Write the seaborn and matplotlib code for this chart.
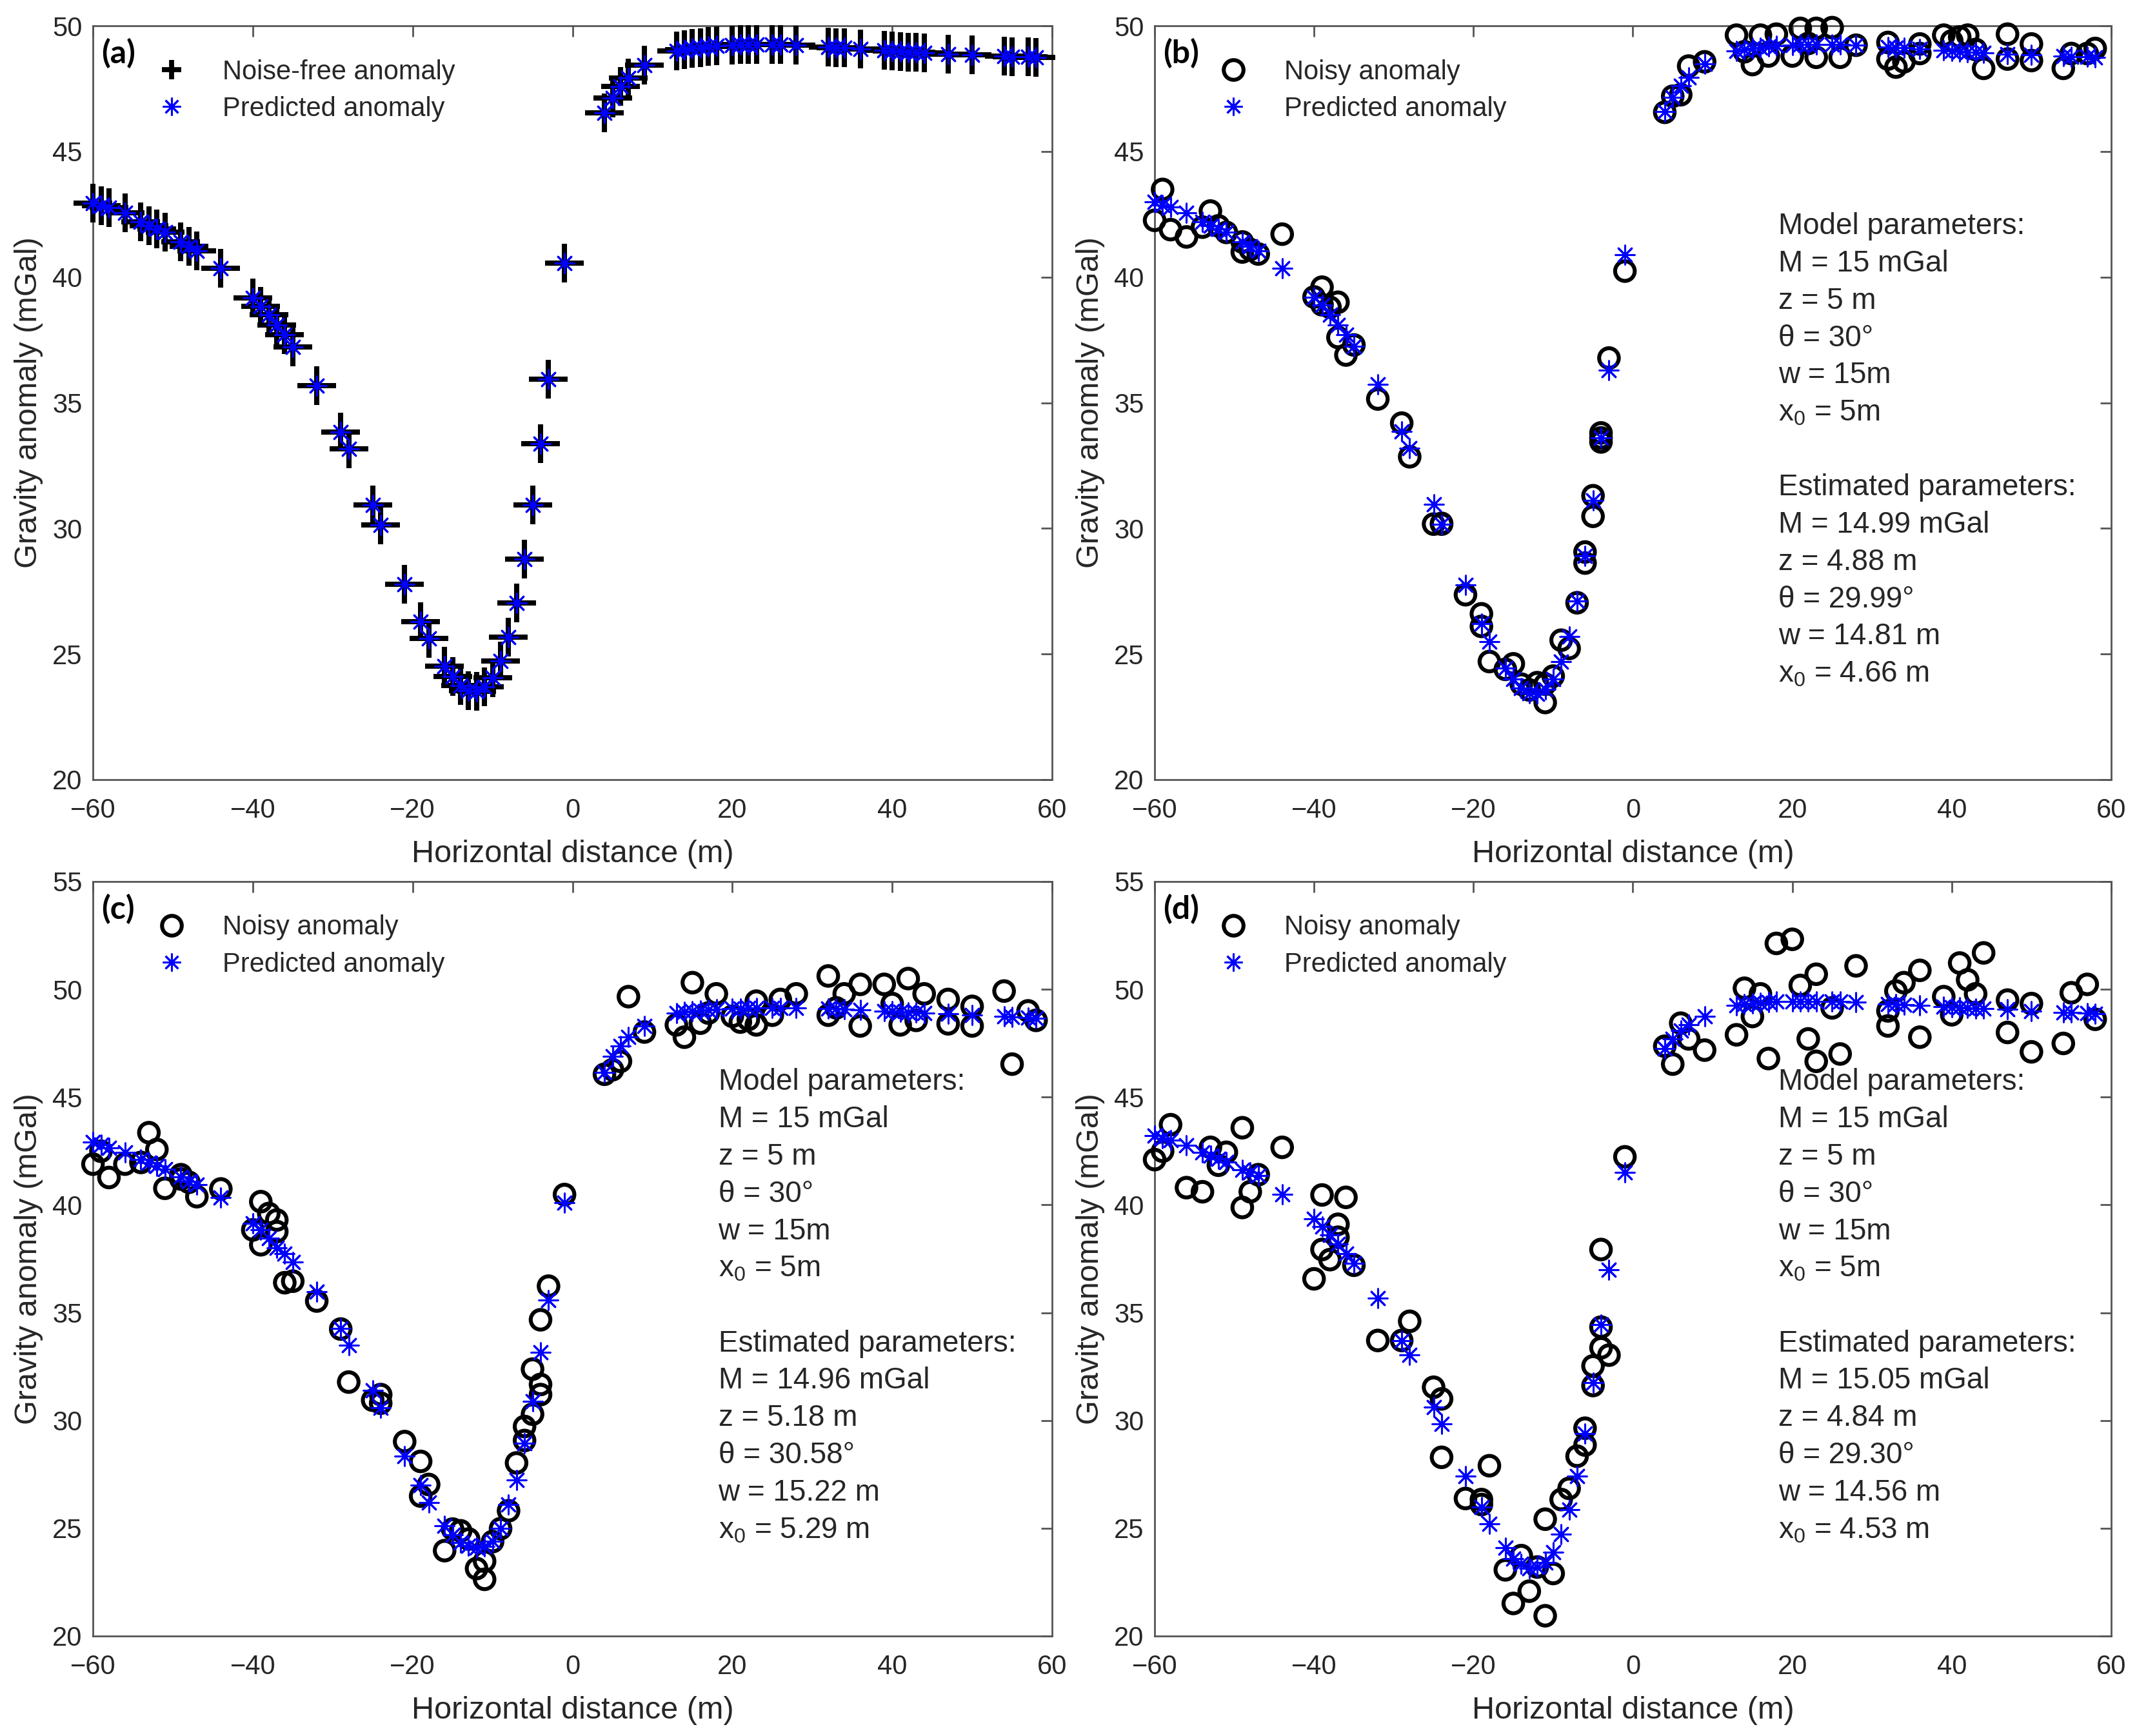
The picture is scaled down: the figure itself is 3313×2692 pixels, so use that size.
"""
Gravity anomaly over a dipping fault: noise-free / noisy data vs predicted
"""
import numpy as np
import pandas as pd
import matplotlib.pyplot as plt
from matplotlib.lines import Line2D
import seaborn as sns

sns.set_style("white")
plt.rcParams['font.family'] = ['Liberation Sans', 'DejaVu Sans']
plt.rcParams['mathtext.fontset'] = 'custom'
plt.rcParams['mathtext.rm'] = 'Liberation Sans'
plt.rcParams['mathtext.it'] = 'Liberation Sans'

# ---- data ----
x_model = [-60, -59, -58, -56, -54, -53, -52, -51, -49, -48, -47, -44,
           -40, -39, -38, -37, -36, -35,
           -32, -29, -28, -25, -24, -21, -19, -18, -16, -15, -14, -13, -12, -11,
           -10, -9, -8, -7, -6, -5, -4, -3, -1,
           4, 5, 6, 7, 9,
           13, 14, 15, 16, 17, 18, 20, 21, 22, 23, 25, 26, 28, 32, 33, 34, 36,
           39, 40, 41, 42, 43, 44, 47, 50, 54, 55, 57, 58]

noise_free = [42.94, 42.85, 42.76, 42.55, 42.20, 42.05, 41.92, 41.78, 41.40, 41.22, 41.05, 40.34,
              39.16, 38.85, 38.50, 38.10, 37.70, 37.23,
              35.69, 33.84, 33.16, 30.93, 30.14, 27.78, 26.30, 25.63, 24.51, 24.10, 23.75, 23.55,
              23.52, 23.70, 24.05, 24.71, 25.68, 27.03, 28.77, 30.93, 33.38, 35.94, 40.55,
              46.55, 47.12, 47.59, 47.92, 48.44,
              49.00, 49.05, 49.10, 49.13, 49.17, 49.20, 49.24, 49.25, 49.26, 49.26, 49.26, 49.25,
              49.23, 49.16, 49.14, 49.12, 49.08, 49.02, 49.00, 48.98, 48.96, 48.94, 48.93, 48.88,
              48.84, 48.79, 48.78, 48.76, 48.75]

pred_a = [42.94, 42.85, 42.76, 42.55, 42.20, 42.05, 41.92, 41.78, 41.40, 41.22, 41.05, 40.34,
          39.16, 38.85, 38.50, 38.10, 37.70, 37.23,
          35.69, 33.84, 33.16, 30.93, 30.14, 27.78, 26.30, 25.63, 24.51, 24.10, 23.75, 23.55,
          23.52, 23.70, 24.05, 24.71, 25.68, 27.03, 28.77, 30.93, 33.38, 35.94, 40.55,
          46.55, 47.12, 47.59, 47.92, 48.44,
          49.00, 49.05, 49.10, 49.13, 49.17, 49.20, 49.24, 49.25, 49.26, 49.26, 49.26, 49.25,
          49.23, 49.16, 49.14, 49.12, 49.08, 49.02, 49.00, 48.98, 48.96, 48.94, 48.93, 48.88,
          48.84, 48.79, 48.78, 48.76, 48.75]

pred_b = [43.00, 42.88, 42.78, 42.55, 42.20, 42.05, 41.92, 41.78, 41.40, 41.22, 41.05, 40.34,
          39.20, 38.88, 38.50, 38.10, 37.70, 37.25,
          35.72, 33.86, 33.18, 30.95, 30.16, 27.75, 26.20, 25.50, 24.45, 24.00, 23.65, 23.45,
          23.42, 23.60, 24.00, 24.70, 25.70, 27.10, 28.90, 31.10, 33.60, 36.30, 40.90,
          46.60, 47.15, 47.62, 47.95, 48.48,
          49.00, 49.05, 49.10, 49.13, 49.17, 49.20, 49.24, 49.25, 49.26, 49.26, 49.26, 49.25,
          49.23, 49.16, 49.14, 49.12, 49.08, 49.02, 49.00, 48.98, 48.96, 48.94, 48.93, 48.88,
          48.84, 48.79, 48.78, 48.76, 48.75]

pred_c = [42.90, 42.80, 42.65, 42.45, 42.10, 41.95, 41.80, 41.65, 41.30, 41.10, 40.95, 40.35,
          39.15, 38.85, 38.45, 38.00, 37.75, 37.35,
          35.97, 34.28, 33.50, 31.40, 30.60, 28.34, 27.00, 26.20, 25.10, 24.70, 24.35, 24.20,
          24.10, 24.15, 24.40, 25.00, 26.10, 27.25, 28.94, 30.90, 33.16, 35.58, 40.10,
          46.14, 46.90, 47.36, 47.78, 48.30,
          48.90, 48.95, 49.00, 49.03, 49.06, 49.08, 49.10, 49.12, 49.13, 49.14, 49.15, 49.15,
          49.15, 49.12, 49.10, 49.09, 49.06, 49.00, 48.98, 48.96, 48.94, 48.92, 48.90, 48.86,
          48.80, 48.74, 48.72, 48.69, 48.67]

pred_d = [43.22, 43.10, 43.00, 42.75, 42.45, 42.30, 42.15, 42.00, 41.63, 41.50, 41.37, 40.48,
          39.36, 39.00, 38.60, 38.20, 37.75, 37.28,
          35.66, 33.70, 33.03, 30.63, 29.85, 27.43, 25.99, 25.21, 24.10, 23.60, 23.35, 23.13,
          23.20, 23.40, 23.90, 24.72, 25.86, 27.43, 29.38, 31.75, 34.46, 37.00, 41.50,
          47.26, 47.70, 48.10, 48.35, 48.75,
          49.27, 49.32, 49.36, 49.39, 49.41, 49.43, 49.45, 49.45, 49.45, 49.45, 49.44, 49.43,
          49.40, 49.33, 49.31, 49.29, 49.27, 49.20, 49.18, 49.16, 49.14, 49.12, 49.10, 49.08,
          49.00, 48.93, 48.92, 48.89, 48.88]

# noisy stations (some positions were measured twice)
x_noisy = [-60, -59, -58, -56, -54, -53, -52, -51, -49, -49, -48, -47, -44,
           -40, -39, -39, -38, -37, -37, -36, -35,
           -32, -29, -28, -25, -24, -24, -21, -19, -19, -18, -16, -15, -14, -13, -12,
           -11, -11, -10, -9, -8, -7, -6, -6, -5, -5, -4, -4, -4, -3, -1,
           4, 5, 6, 7, 9,
           13, 14, 15, 16, 17, 18, 20, 21, 22, 23, 23, 25, 26, 28, 32, 32, 33, 34,
           36, 36, 39, 40, 41, 42, 43, 44, 47, 47, 50, 50, 54, 55, 57, 58]

noisy_b = [42.26, 43.49, 41.89, 41.60, 41.99, 42.63, 42.04, 41.78, 41.40, 41.00, 41.10, 40.92, 41.71,
           39.21, 39.60, 38.90, 38.80, 39.00, 37.60, 36.90, 37.30,
           35.15, 34.19, 32.85, 30.17, 30.17, 30.20, 27.36, 26.60, 26.10, 24.70, 24.39, 24.61,
           23.80, 23.57, 23.86, 23.07, 23.80, 24.12, 25.55, 25.22, 27.04, 29.06, 28.62, 31.30,
           30.48, 33.80, 33.44, 33.60, 36.78, 40.24,
           46.56, 47.20, 47.26, 48.40, 48.57,
           49.63, 48.97, 48.46, 49.63, 48.80, 49.67, 48.80, 49.90, 49.30, 48.75, 49.90, 49.93,
           48.75, 49.23, 49.34, 48.68, 48.36, 48.57, 49.28, 48.90, 49.63, 49.40, 49.56, 49.63,
           49.06, 48.31, 49.67, 48.68, 49.28, 48.62, 48.31, 48.90, 48.90, 49.10]

noisy_c = [41.89, 42.49, 41.27, 41.89, 41.97, 43.35, 42.57, 40.77, 41.40, 41.20, 41.05, 40.38, 40.74,
           38.84, 40.15, 38.15, 39.60, 39.30, 38.76, 36.39, 36.46,
           35.54, 34.24, 31.78, 30.94, 31.20, 30.80, 29.02, 28.10, 26.49, 27.03, 23.96, 24.96,
           24.88, 24.50, 23.13, 22.63, 23.47, 24.38, 24.98, 25.81, 28.03, 29.72, 29.07, 32.38,
           30.29, 34.67, 31.67, 31.20, 36.23, 40.48,
           46.06, 46.27, 46.66, 49.66, 48.02,
           48.35, 47.78, 50.31, 48.43, 48.90, 49.79, 48.75, 48.48, 48.60, 48.35, 49.45, 48.80,
           49.53, 49.79, 50.62, 48.80, 49.14, 49.79, 50.23, 48.30, 50.23, 49.34, 48.35, 50.50,
           48.56, 49.79, 49.53, 48.40, 49.21, 48.30, 49.92, 46.53, 49.00, 48.56]

noisy_d = [42.10, 42.49, 43.72, 40.80, 40.61, 42.67, 41.84, 42.44, 43.58, 39.88, 40.61, 41.40, 42.67,
           36.57, 40.46, 37.93, 37.46, 39.10, 38.50, 40.35, 37.20,
           33.71, 33.71, 34.60, 31.54, 31.00, 28.29, 26.38, 26.33, 26.10, 27.90, 23.07, 21.51,
           23.73, 22.08, 23.20, 25.42, 20.94, 22.90, 26.33, 26.85, 28.34, 29.64, 28.86, 32.53,
           31.62, 34.33, 37.93, 33.37, 33.03, 42.23,
           47.36, 46.53, 48.43, 47.70, 47.18,
           47.89, 50.05, 48.74, 49.79, 46.79, 52.13, 52.32, 50.18, 47.70, 50.70, 46.66, 49.14,
           47.00, 51.09, 49.00, 48.30, 49.92, 50.31, 50.88, 47.78, 49.66, 48.82, 51.22, 50.44,
           49.79, 51.69, 49.50, 48.00, 49.34, 47.10, 47.49, 49.84, 50.23, 48.61]

model = pd.DataFrame({"x": x_model, "noise_free": noise_free, "a": pred_a,
                      "b": pred_b, "c": pred_c, "d": pred_d})
noisy = pd.DataFrame({"x": x_noisy, "b": noisy_b, "c": noisy_c, "d": noisy_d})

params_model = ["Model parameters:", "M = 15 mGal", "z = 5 m", "\u03b8 = 30\u00b0",
                "w = 15m", "x$_0$ = 5m"]
params_est = {
    "b": ["M = 14.99 mGal", "z = 4.88 m", "\u03b8 = 29.99\u00b0", "w = 14.81 m", "x$_0$ = 4.66 m"],
    "c": ["M = 14.96 mGal", "z = 5.18 m", "\u03b8 = 30.58\u00b0", "w = 15.22 m", "x$_0$ = 5.29 m"],
    "d": ["M = 15.05 mGal", "z = 4.84 m", "\u03b8 = 29.30\u00b0", "w = 14.56 m", "x$_0$ = 4.53 m"],
}

# ---- styling ----
AST = (8, 2, 0)        # matlab-like asterisk
TXT = '#262626'
SPINE = '#555555'

fig = plt.figure(figsize=(16.565, 13.46), dpi=200)
boxes = {"a": [0.0435, 0.5509, 0.4488, 0.4342],
         "b": [0.5403, 0.5509, 0.4476, 0.4342],
         "c": [0.0435, 0.0576, 0.4488, 0.4346],
         "d": [0.5403, 0.0576, 0.4476, 0.4346]}

h_plus = Line2D([], [], ls='none', marker='+', ms=11, mew=2.8, color='black')
h_ast = Line2D([], [], ls='none', marker=AST, ms=10, mew=1.1, color='blue')
h_circ = Line2D([], [], ls='none', marker='o', ms=11, mew=2.2, mfc='none', mec='black')


def style_axes(ax, ytop):
    ax.set_xlim(-60, 60)
    ax.set_ylim(20, ytop)
    ax.set_xticks(np.arange(-60, 61, 20))
    ax.set_yticks(np.arange(20, ytop + 1, 5))
    ax.tick_params(direction='in', top=True, right=True, length=6, width=1,
                   color=SPINE, labelsize=15, labelcolor=TXT)
    ax.tick_params(axis='x', pad=10)
    ax.tick_params(axis='y', pad=6)
    for s in ax.spines.values():
        s.set_color(SPINE)
        s.set_linewidth(1.0)
    ax.set_xlabel("Horizontal distance (m)", fontsize=17.5, color=TXT, labelpad=9)
    ax.set_ylabel("Gravity anomaly (mGal)", fontsize=17.5, color=TXT, labelpad=5)


for key, box in boxes.items():
    ax = fig.add_axes(box)
    if key == "a":
        sns.scatterplot(data=model, x="x", y="noise_free", ax=ax, marker='+', s=460,
                        color='black', linewidth=2.9, clip_on=False, zorder=3, legend=False)
        handles = [h_plus, h_ast]
        labels = ["Noise-free anomaly", "Predicted anomaly"]
        ytop = 50
    else:
        sns.scatterplot(data=noisy, x="x", y=key, ax=ax, marker='o', s=120,
                        facecolor='none', edgecolor='black', linewidth=2.2,
                        clip_on=False, zorder=3, legend=False)
        handles = [h_circ, h_ast]
        labels = ["Noisy anomaly", "Predicted anomaly"]
        ytop = 50 if key == "b" else 55
    sns.scatterplot(data=model, x="x", y=key, ax=ax, marker=AST, s=110,
                    color='blue', linewidth=1.1, clip_on=False, zorder=4, legend=False)
    style_axes(ax, ytop)

    ax.legend(handles, labels, loc='upper left', bbox_to_anchor=(0.068, 0.956),
              frameon=False, fontsize=15, handlelength=1.0, handletextpad=1.4,
              labelspacing=0.42, borderpad=0, borderaxespad=0)
    ax.text(0.009, 0.964, f"({key})", transform=ax.transAxes, fontsize=18,
            fontweight='bold', family=['Lato', 'DejaVu Sans'], ha='left', va='center',
            color='black')

    if key != "a":
        lines = params_model + [""] + ["Estimated parameters:"] + params_est[key]
        for i, line in enumerate(lines):
            ax.text(0.652, 0.734 - i * 0.0495, line, transform=ax.transAxes,
                    fontsize=16.5, color=TXT, ha='left', va='center')

fig.savefig("out.png", dpi=200)
